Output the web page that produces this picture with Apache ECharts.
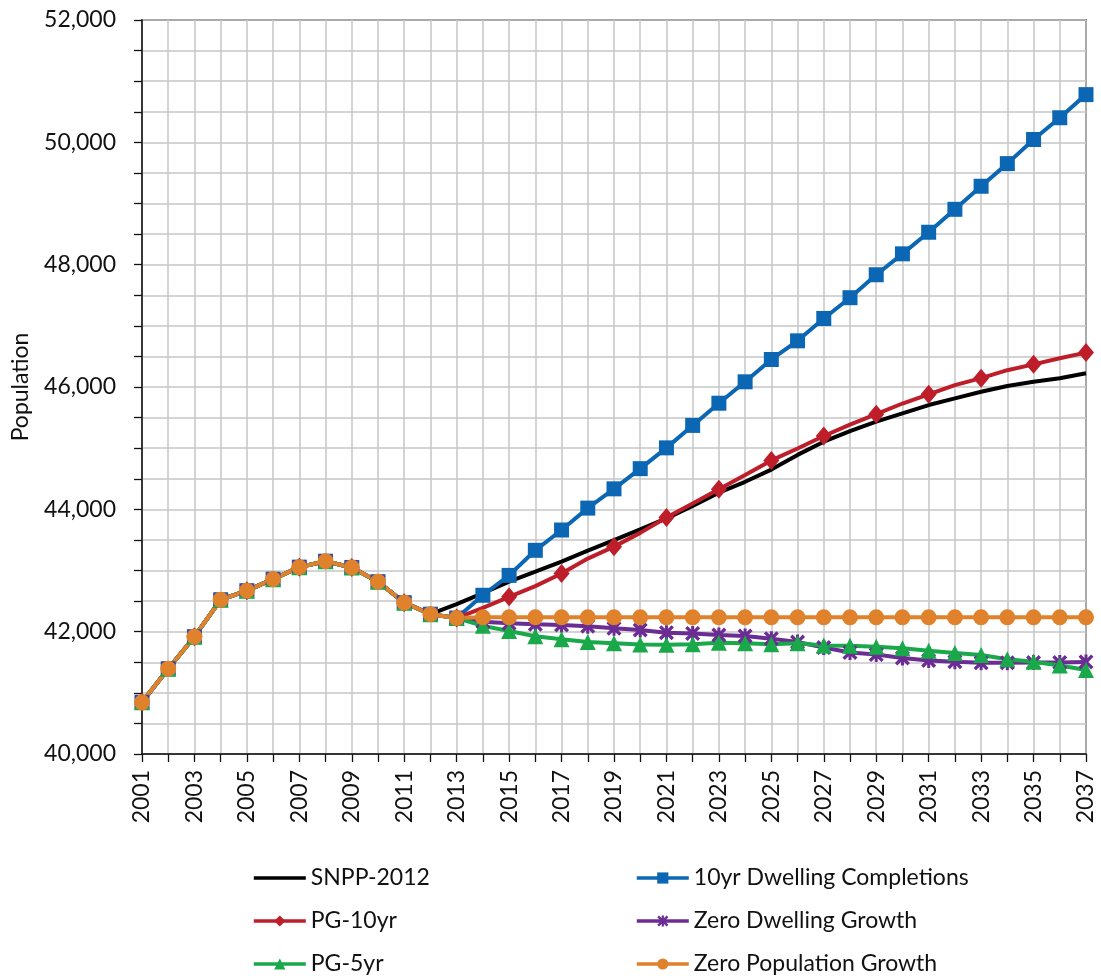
<!DOCTYPE html>
<html>
<head>
<meta charset="utf-8">
<script src="https://cdn.jsdelivr.net/npm/echarts@6/dist/echarts.min.js"></script>
<style>
html,body{margin:0;padding:0;background:#fff;}
#chart{width:1101px;height:978px;}
</style>
</head>
<body>
<div id="chart"></div>
<script>
// ---- data ----
const years = [];
for (let y = 2001; y <= 2037; y++) years.push(String(y));

// shared history 2001-2013
const history = [40845, 41395, 41918, 42522, 42670, 42858, 43055, 43152, 43050, 42817, 42474, 42286, 42222];

const snpp2012Proj = [42450, 42630, 42817, 42980, 43144, 43324, 43498, 43673, 43853, 44054, 44272, 44450, 44650, 44890, 45106, 45280, 45433, 45570, 45705, 45814, 45923, 46016, 46087, 46142, 46224];
const dwell10Proj = [42595, 42920, 43330, 43662, 44020, 44335, 44665, 45005, 45372, 45735, 46085, 46450, 46755, 47120, 47460, 47835, 48177, 48530, 48905, 49282, 49652, 50046, 50402, 50780];
const pg10Proj = [42390, 42570, 42745, 42950, 43195, 43390, 43615, 43865, 44095, 44330, 44560, 44800, 44995, 45199, 45385, 45555, 45730, 45880, 46030, 46145, 46275, 46370, 46470, 46562];
const zeroDwellProj = [42163, 42136, 42120, 42109, 42090, 42054, 42027, 41983, 41972, 41945, 41929, 41885, 41830, 41740, 41660, 41625, 41570, 41530, 41510, 41490, 41490, 41495, 41495, 41505];
const pg5Proj = [42095, 42010, 41925, 41875, 41830, 41810, 41790, 41785, 41795, 41820, 41810, 41795, 41810, 41775, 41768, 41755, 41728, 41687, 41650, 41618, 41550, 41509, 41447, 41372];
const zeroPopProj = [42235, 42235, 42235, 42235, 42235, 42235, 42235, 42235, 42235, 42235, 42235, 42235, 42235, 42235, 42235, 42235, 42235, 42235, 42235, 42235, 42235, 42235, 42235, 42235];

const yTickLabels = [40000, 42000, 44000, 46000, 48000, 50000, 52000];

// SNPP follows history to 2012, then its own projection from 2013
const snpp = history.slice(0, 12).concat(snpp2012Proj);
const withHist = p => history.concat(p);

const FONT = 'Lato';
const starPath = 'path://M0,1.6 L1.6,0 L5,3.4 L8.4,0 L10,1.6 L6.6,5 L10,8.4 L8.4,10 L5,6.6 L1.6,10 L0,8.4 L3.4,5 Z M4,0 L6,0 L6,10 L4,10 Z';
// plain line icon for the legend of the marker-less series (bounding box 52x14)
const lineIcon = 'path://M0,0 L0.01,0 L0.01,0.01 Z M52,14 L51.99,14 L51.99,13.99 Z M0,5.2 L52,5.2 L52,8.8 L0,8.8 Z';

function fmt(v){
  return String(v).replace(/\B(?=(\d{3})+(?!\d))/g, ',');
}

const seriesDefs = [
  {name:'SNPP-2012', data: snpp, color:'#000000', symbol:'none', size:0},
  {name:'10yr Dwelling Completions', data: withHist(dwell10Proj), color:'#0B67B4', symbol:'rect', size:15},
  {name:'PG-10yr', data: withHist(pg10Proj), color:'#BE1E2A', symbol:'diamond', size:[16,19]},
  {name:'Zero Dwelling Growth', data: withHist(zeroDwellProj), color:'#6B2D93', symbol:starPath, size:15},
  {name:'PG-5yr', data: withHist(pg5Proj), color:'#19A84A', symbol:'triangle', size:16},
  {name:'Zero Population Growth', data: withHist(zeroPopProj), color:'#E0812B', symbol:'circle', size:16}
];

const chart = echarts.init(document.getElementById('chart'), null, {renderer:'canvas'});

const legendCommon = {
  orient:'vertical',
  top: 866,
  height: 130,
  padding: 0,
  itemWidth: 52,
  itemHeight: 14,
  itemGap: 19,
  lineStyle:{width:3.6},
  textStyle:{fontFamily:FONT, fontSize:23, color:'#111', lineHeight:24},
  selectedMode:false
};

chart.setOption({
  animation:false,
  backgroundColor:'#ffffff',
  grid:{left:142, right:15, top:20, bottom:224, show:true, borderColor:'#222', borderWidth:1.5, backgroundColor:'transparent'},
  legend:[
    Object.assign({left:252, data:[{name:'SNPP-2012', icon:lineIcon, itemStyle:{color:'#000'}},'PG-10yr','PG-5yr']}, legendCommon),
    Object.assign({left:635, data:['10yr Dwelling Completions','Zero Dwelling Growth','Zero Population Growth']}, legendCommon)
  ],
  xAxis:{
    type:'category',
    data: years,
    boundaryGap:false,
    axisLine:{show:true, lineStyle:{color:'#111', width:1.5}},
    axisTick:{show:true, interval:0, length:8, lineStyle:{color:'#111', width:1.3}},
    axisLabel:{interval:1, rotate:90, margin:16, fontFamily:FONT, fontSize:23, color:'#111'},
    splitLine:{show:true, interval:0, lineStyle:{color:'#c6c6c6', width:1.5}}
  },
  yAxis:{
    type:'value',
    min: yTickLabels[0],
    max: yTickLabels[yTickLabels.length-1],
    interval:500,
    name:'Population',
    nameLocation:'middle',
    nameGap:110,
    nameTextStyle:{fontFamily:FONT, fontSize:23, color:'#111'},
    axisLine:{show:true, lineStyle:{color:'#111', width:1.5}},
    axisTick:{show:true, length:8, lineStyle:{color:'#111', width:1.3}},
    axisLabel:{
      margin:26, fontFamily:FONT, fontSize:23, color:'#111',
      formatter: v => (yTickLabels.indexOf(v) >= 0 ? fmt(v) : '')
    },
    splitLine:{show:true, lineStyle:{color:'#c6c6c6', width:1.5}}
  },
  series: seriesDefs.map(s => ({
    name:s.name,
    type:'line',
    data:s.data,
    symbol:s.symbol,
    symbolSize:s.size,
    showSymbol: s.symbol !== 'none',
    smooth:false,
    lineStyle:{color:s.color, width:4},
    itemStyle:{color:s.color},
    emphasis:{disabled:true}
  }))
});
</script>
</body>
</html>
